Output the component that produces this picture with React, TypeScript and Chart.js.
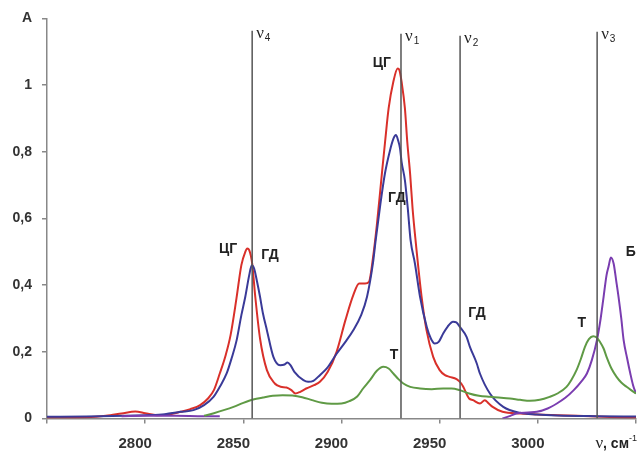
import React, { useEffect, useRef } from "react";
import { Chart, registerables } from "chart.js";

Chart.register(...registerables);

// ЦГ (red)
const cgX = [2750, 2770, 2780, 2788, 2795, 2800, 2806, 2812, 2818, 2823, 2828, 2832, 2835, 2838, 2841, 2843.5, 2846.5, 2849, 2851, 2852, 2853, 2854.5, 2856, 2858.5, 2862, 2866, 2869, 2872, 2874.5, 2876.5, 2879, 2882, 2886, 2889, 2893, 2897.5, 2902, 2906, 2909, 2912, 2914, 2916, 2918, 2920.5, 2922.2, 2924, 2926.4, 2928.6, 2929.5, 2930.6, 2932.3, 2933.5, 2935, 2936.2, 2937.8, 2940.8, 2943.3, 2946.7, 2950, 2952.7, 2955, 2958.6, 2961, 2962, 2965, 2967, 2970.5, 2973, 2975, 2977, 2982, 2991, 3000, 3010, 3020, 3030, 3040, 3050];
const cgY = [0.003, 0.004, 0.008, 0.015, 0.021, 0.016, 0.01, 0.012, 0.02, 0.028, 0.04, 0.06, 0.085, 0.135, 0.19, 0.25, 0.36, 0.46, 0.5, 0.51, 0.505, 0.465, 0.37, 0.24, 0.145, 0.105, 0.095, 0.093, 0.085, 0.075, 0.08, 0.09, 0.1, 0.11, 0.14, 0.2, 0.295, 0.37, 0.405, 0.405, 0.41, 0.48, 0.58, 0.73, 0.83, 0.93, 1.01, 1.05, 1.045, 1.01, 0.93, 0.83, 0.73, 0.63, 0.53, 0.365, 0.265, 0.185, 0.145, 0.13, 0.125, 0.118, 0.105, 0.095, 0.06, 0.055, 0.045, 0.055, 0.045, 0.035, 0.02, 0.015, 0.012, 0.01, 0.008, 0.006, 0.004, 0.003];

// ГД (navy)
const gdX = [2750, 2770, 2790, 2800, 2810, 2818, 2824.6, 2830, 2834.8, 2838, 2841.5, 2844, 2846.6, 2849, 2851, 2853, 2854.3, 2855.5, 2857, 2858.5, 2860, 2862, 2865.3, 2868.7, 2871, 2872.5, 2874, 2876, 2880.6, 2883, 2885.7, 2889, 2892.5, 2897.6, 2902, 2906, 2910, 2913, 2916, 2917.4, 2919.6, 2922.1, 2924.7, 2926.5, 2927.7, 2928.8, 2929.8, 2930.6, 2932.3, 2933.7, 2935.2, 2937.4, 2940, 2943.4, 2945.5, 2947.5, 2949.5, 2951.8, 2954, 2956.8, 2958.5, 2960.3, 2963.7, 2965.4, 2968.9, 2970.5, 2975.6, 2982.4, 2991, 2999.5, 3010, 3030, 3050];
const gdY = [0.005, 0.006, 0.008, 0.01, 0.013, 0.02, 0.025, 0.04, 0.065, 0.095, 0.135, 0.18, 0.235, 0.31, 0.365, 0.43, 0.46, 0.45, 0.41, 0.365, 0.315, 0.265, 0.185, 0.16, 0.162, 0.168, 0.16, 0.14, 0.115, 0.11, 0.113, 0.13, 0.15, 0.195, 0.23, 0.265, 0.31, 0.365, 0.465, 0.534, 0.634, 0.734, 0.804, 0.84, 0.85, 0.835, 0.81, 0.77, 0.714, 0.634, 0.534, 0.465, 0.365, 0.275, 0.24, 0.225, 0.23, 0.255, 0.275, 0.29, 0.288, 0.275, 0.245, 0.215, 0.165, 0.135, 0.075, 0.035, 0.017, 0.012, 0.009, 0.007, 0.006];

// Т (green)
const tX = [2830, 2835, 2840, 2845, 2850, 2855, 2860, 2865, 2870, 2875, 2880, 2885, 2890, 2895, 2900, 2904, 2908, 2911, 2914.5, 2918, 2921.3, 2924, 2926.4, 2929, 2931.5, 2935, 2940, 2946, 2951.8, 2956, 2960.3, 2965, 2970, 2975.6, 2980, 2985.8, 2991, 2996, 3001, 3006, 3010, 3014.6, 3017, 3019.7, 3022, 3024, 3026, 3028.2, 3030, 3031.6, 3033.5, 3035, 3037.5, 3040.1, 3042.5, 3045.2, 3047.5, 3050];
const tY = [0.008, 0.016, 0.025, 0.035, 0.047, 0.057, 0.063, 0.068, 0.07, 0.069, 0.064, 0.055, 0.047, 0.044, 0.045, 0.052, 0.066, 0.09, 0.115, 0.143, 0.155, 0.15, 0.135, 0.118, 0.105, 0.095, 0.09, 0.088, 0.09, 0.09, 0.085, 0.075, 0.068, 0.065, 0.063, 0.06, 0.056, 0.053, 0.056, 0.065, 0.075, 0.095, 0.115, 0.145, 0.18, 0.215, 0.238, 0.247, 0.243, 0.23, 0.21, 0.185, 0.15, 0.125, 0.108, 0.095, 0.085, 0.075];

// Б (purple)
const bX = [2788, 2800, 2815, 2830, 2838, 2900, 2982, 2986, 2989, 2995, 2999.5, 3005, 3009.7, 3014, 3018.3, 3022, 3025, 3027.5, 3030.1, 3032, 3033.5, 3035, 3036, 3037.2, 3038.6, 3040, 3041.1, 3042.5, 3043.7, 3045.5, 3047.1, 3048.5, 3050];
const bY = [0.007, 0.008, 0.008, 0.007, 0.007, null, 0.0, 0.008, 0.015, 0.018, 0.02, 0.03, 0.045, 0.062, 0.085, 0.11, 0.135, 0.175, 0.235, 0.3, 0.365, 0.43, 0.455, 0.483, 0.465, 0.41, 0.365, 0.3, 0.235, 0.18, 0.135, 0.1, 0.075];

// vertical reference lines
const nuNames = ["4", "1", "2", "3"];
const nuX = [2854.5, 2930.3, 2960.4, 3030.2];
const nuTop = [1.163, 1.154, 1.148, 1.16];

// curve annotations
const noteText = ["ЦГ", "ГД", "ЦГ", "ГД", "Т", "ГД", "Т", "Б"];
const noteX = [2842.2, 2863.6, 2920.6, 2928.2, 2926.7, 2969, 3022.4, 3047.3];
const noteY = [0.507, 0.49, 1.067, 0.66, 0.19, 0.316, 0.286, 0.5];

const yTicks = [0, 0.2, 0.4, 0.6, 0.8, 1, 1.2];
const xTicks = [2750, 2800, 2850, 2900, 2950, 3000, 3050];

const pts = (xs: number[], ys: (number | null)[]) => xs.map((x, i) => ({ x, y: ys[i] }));

const SANS = "'Liberation Sans', Arial, sans-serif";
const SERIF = "'Liberation Serif', 'Times New Roman', serif";

const annotPlugin = {
  id: "annot",
  afterDatasetsDraw(chart: any) {
    const { ctx, scales } = chart;
    const xs = scales.x;
    const ys = scales.y;
    ctx.save();
    ctx.fillStyle = "#222";
    ctx.font = `bold 14px ${SANS}`;
    ctx.textAlign = "center";
    ctx.textBaseline = "middle";
    noteText.forEach((t, i) => {
      ctx.fillText(t, xs.getPixelForValue(noteX[i]), ys.getPixelForValue(noteY[i]));
    });
    // nu labels
    ctx.textAlign = "left";
    ctx.textBaseline = "alphabetic";
    nuNames.forEach((n, i) => {
      const px = xs.getPixelForValue(nuX[i]) + 4;
      const py = ys.getPixelForValue(nuTop[i]) + 7;
      ctx.font = `17px ${SERIF}`;
      ctx.fillText("ν", px, py);
      const w = ctx.measureText("ν").width;
      ctx.font = `10px ${SANS}`;
      ctx.fillText(n, px + w + 1, py + 3);
    });
    // x-axis title
    const right = chart.width - 1;
    const base = 448;
    ctx.font = `9px ${SANS}`;
    const sup = "-1";
    const supW = ctx.measureText(sup).width;
    ctx.font = `bold 14px ${SANS}`;
    const mid = ", см";
    const midW = ctx.measureText(mid).width;
    ctx.font = `17px ${SERIF}`;
    const nuW = ctx.measureText("ν").width;
    const x0 = right - supW - midW - nuW;
    ctx.fillText("ν", x0, base);
    ctx.font = `bold 14px ${SANS}`;
    ctx.fillText(mid, x0 + nuW, base);
    ctx.font = `9px ${SANS}`;
    ctx.fillText(sup, x0 + nuW + midW, base - 7);
    ctx.restore();
  },
};

export default function App() {
  const ref = useRef<HTMLCanvasElement | null>(null);
  useEffect(() => {
    if (!ref.current) return;
    const line = (data: any, color: string, w = 2) => ({
      data,
      borderColor: color,
      backgroundColor: color,
      borderWidth: w,
      pointRadius: 0,
      cubicInterpolationMode: "monotone" as const,
      spanGaps: false,
    });
    const datasets: any[] = [
      ...nuX.map((x, i) => ({
        data: [
          { x, y: 0 },
          { x, y: nuTop[i] },
        ],
        borderColor: "#555",
        borderWidth: 1.5,
        pointRadius: 0,
      })),
      line(pts(tX, tY), "#5f9a45"),
      line(pts(bX, bY), "#7a3db0"),
      line(pts(gdX, gdY), "#3a3a98"),
      line(pts(cgX, cgY), "#d9302a"),
    ];
    const chart = new Chart(ref.current, {
      type: "line",
      data: { datasets },
      plugins: [annotPlugin],
      options: {
        responsive: false,
        animation: false,
        events: [],
        layout: { padding: { top: 17, right: 2, left: 0, bottom: 0 } },
        plugins: { legend: { display: false }, tooltip: { enabled: false } },
        scales: {
          x: {
            type: "linear",
            min: 2750,
            max: 3050,
            afterBuildTicks: (s: any) => {
              s.ticks = xTicks.map((v) => ({ value: v }));
            },
            afterFit: (s: any) => {
              s.height = 452 - 418.5;
              s.paddingRight = 0;
              s.paddingLeft = 0;
            },
            grid: { display: true, drawOnChartArea: false, drawTicks: true, tickLength: 5, color: "#888", lineWidth: 1.5 },
            border: { display: true, color: "#888", width: 1.5 },
            ticks: {
              color: "#333",
              font: { family: SANS, size: 15, weight: "bold" },
              padding: 11,
              labelOffset: -10,
              maxRotation: 0,
              autoSkip: false,
              callback: (v: any) => (v === 2750 || v === 3050 ? "" : String(v)),
            },
          },
          y: {
            type: "linear",
            min: 0,
            max: 1.2,
            afterBuildTicks: (s: any) => {
              s.ticks = yTicks.map((v) => ({ value: v }));
            },
            afterFit: (s: any) => {
              s.width = 47;
            },
            grid: { display: true, drawOnChartArea: false, drawTicks: true, tickLength: 5, color: "#888", lineWidth: 1.5 },
            border: { display: true, color: "#888", width: 1.5 },
            ticks: {
              color: "#333",
              font: { family: SANS, size: 14, weight: "bold" },
              padding: 10,
              callback: (v: any) => {
                const r = Math.round(v * 10) / 10;
                if (r === 1.2) return "A";
                return String(r).replace(".", ",");
              },
            },
          },
        },
      } as any,
    });
    return () => chart.destroy();
  }, []);
  return (
    <div style={{ position: "absolute", left: 0, top: 0, width: 638, height: 452, background: "#fff" }}>
      <canvas ref={ref} width={638} height={452} />
    </div>
  );
}
